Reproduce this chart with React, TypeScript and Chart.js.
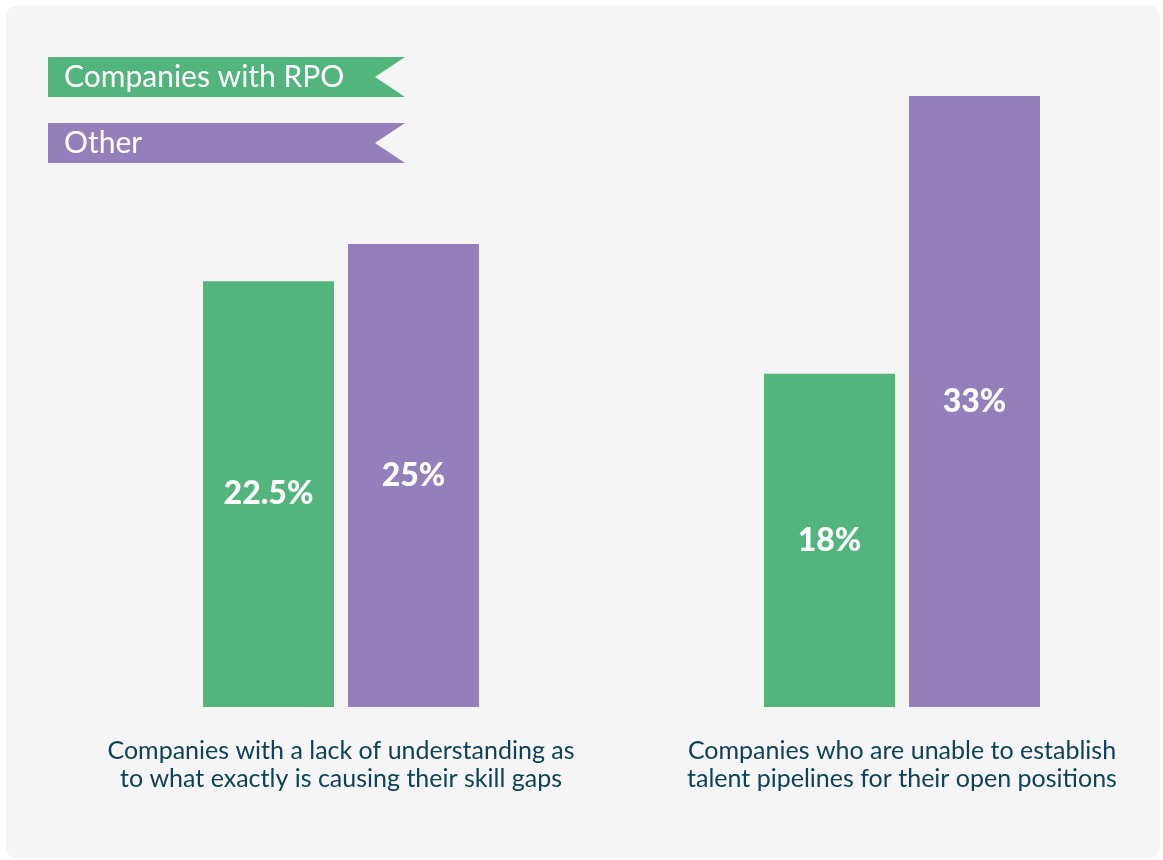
import React, { useEffect, useRef } from "react";
import { Chart, registerables } from "chart.js";

Chart.register(...registerables);

const categories: string[][] = [
  ["Companies with a lack of understanding as", "to what exactly is causing their skill gaps"],
  ["Companies who are unable to establish", "talent pipelines for their open positions"],
];
const seriesNames = ["Companies with RPO", "Other"];
const rpoValues = [23, 18];
const otherValues = [25, 33];
const rpoLabels = ["22.5%", "18%"];
const otherLabels = ["25%", "33%"];

const GREEN = "#53b57b";
const PURPLE = "#9380bb";
const TEXT = "#0e4257";
const FONT = "Lato, 'Open Sans', sans-serif";

const valueLabelPlugin = {
  id: "valueLabels",
  afterDatasetsDraw(chart: any) {
    const ctx = chart.ctx;
    const labelSets = [rpoLabels, otherLabels];
    ctx.save();
    ctx.fillStyle = "#ffffff";
    ctx.font = `900 32px ${FONT}`;
    ctx.textAlign = "center";
    ctx.textBaseline = "middle";
    chart.data.datasets.forEach((_: any, di: number) => {
      const meta = chart.getDatasetMeta(di);
      meta.data.forEach((el: any, i: number) => {
        const y = (el.y + el.base) / 2;
        ctx.fillText(labelSets[di][i], el.x, y);
      });
    });
    ctx.restore();
  },
};

const flagLegendPlugin = {
  id: "flagLegend",
  afterDraw(chart: any) {
    const ctx = chart.ctx;
    const x0 = 42;
    const x1 = 399;
    const h = 40;
    const notch = 30;
    const tops = [51, 117];
    ctx.save();
    chart.data.datasets.forEach((ds: any, i: number) => {
      const t = tops[i];
      ctx.fillStyle = ds.backgroundColor;
      ctx.beginPath();
      ctx.moveTo(x0, t);
      ctx.lineTo(x1, t);
      ctx.lineTo(x1 - notch, t + h / 2);
      ctx.lineTo(x1, t + h);
      ctx.lineTo(x0, t + h);
      ctx.closePath();
      ctx.fill();
      ctx.fillStyle = "#ffffff";
      ctx.font = `30px ${FONT}`;
      ctx.textAlign = "left";
      ctx.textBaseline = "middle";
      ctx.fillText(ds.label, x0 + 16, t + h / 2);
    });
    ctx.restore();
  },
};

export default function App() {
  const ref = useRef<HTMLCanvasElement | null>(null);
  useEffect(() => {
    if (!ref.current) return;
    const chart = new Chart(ref.current, {
      type: "bar",
      data: {
        labels: categories,
        datasets: [
          {
            label: seriesNames[0],
            data: rpoValues,
            backgroundColor: GREEN,
            categoryPercentage: 0.517,
            barPercentage: 0.9034,
            clip: false,
          },
          {
            label: seriesNames[1],
            data: otherValues,
            backgroundColor: PURPLE,
            categoryPercentage: 0.517,
            barPercentage: 0.9034,
            clip: false,
          },
        ],
      } as any,
      options: {
        responsive: false,
        animation: false,
        devicePixelRatio: 1,
        layout: { padding: { left: 335, right: 258, top: 90, bottom: 35 } },
        plugins: { legend: { display: false }, tooltip: { enabled: false } },
        scales: {
          x: {
            offset: false,
            grid: { display: false, drawTicks: false },
            border: { display: false },
            ticks: {
              color: TEXT,
              font: { family: FONT, size: 25, lineHeight: 1.12 },
              padding: 30,
              maxRotation: 0,
              minRotation: 0,
              autoSkip: false,
            },
          },
          y: { display: false, min: 0, max: 33 },
        },
      } as any,
      plugins: [valueLabelPlugin, flagLegendPlugin],
    });
    return () => chart.destroy();
  }, []);
  return (
    <div style={{ position: "absolute", left: 0, top: 0, width: 1163, height: 860, background: "#ffffff" }}>
      <div
        style={{
          position: "absolute",
          left: 6,
          top: 6,
          width: 1154,
          height: 852,
          borderRadius: 10,
          background: "#f5f5f5",
          overflow: "hidden",
        }}
      >
        <canvas ref={ref} width={1154} height={852} style={{ display: "block" }} />
      </div>
    </div>
  );
}
